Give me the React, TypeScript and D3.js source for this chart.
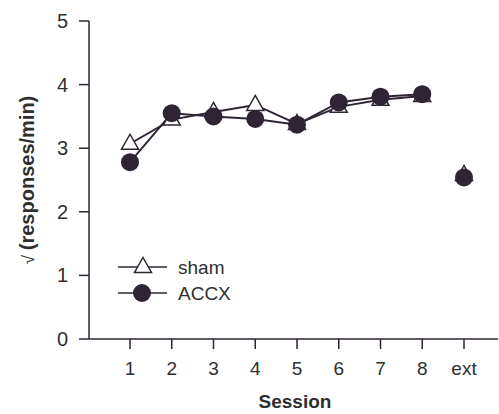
import React from "react";
import * as d3 from "d3";

const sessions = ["1", "2", "3", "4", "5", "6", "7", "8", "ext"];
const shamValues = [3.07, 3.45, 3.57, 3.68, 3.38, 3.65, 3.76, 3.82, 2.58];
const accxValues = [2.78, 3.55, 3.5, 3.46, 3.37, 3.72, 3.81, 3.85, 2.54];
const yTicks = [0, 1, 2, 3, 4, 5];
const connectedCount = 8;

const W = 499;
const H = 414;
const INK = "#2e2433";
const TEXT = "#2f2f2f";
const FONT = "'Liberation Sans', Arial, sans-serif";

export default function App() {
  const x = d3.scalePoint<string>().domain(sessions).range([130, 464]);
  const y = d3.scaleLinear().domain([0, 5]).range([339, 21]);
  const line = d3
    .line<number>()
    .x((_, i) => x(sessions[i]) as number)
    .y((d) => y(d));

  const triPath = (cx: number, cy: number) =>
    `M${cx},${cy - 9.5} L${cx + 8.5},${cy + 5.5} L${cx - 8.5},${cy + 5.5} Z`;

  return (
    <svg
      width={W}
      height={H}
      style={{ position: "absolute", left: 0, top: 0, background: "#fff" }}
      fontFamily={FONT}
    >
      {/* axes */}
      <line x1={89} x2={89} y1={y(5)} y2={y(0)} stroke={INK} strokeWidth={1.5} />
      <line x1={89} x2={498} y1={y(0)} y2={y(0)} stroke={INK} strokeWidth={1.5} />
      {yTicks.map((t) => (
        <g key={t}>
          <line x1={79} x2={89} y1={y(t)} y2={y(t)} stroke={INK} strokeWidth={1.5} />
          <text x={68} y={y(t)} dy="0.35em" textAnchor="end" fontSize={20} fill={TEXT}>
            {t}
          </text>
        </g>
      ))}
      {sessions.map((s) => (
        <g key={s}>
          <line x1={x(s)} x2={x(s)} y1={y(0)} y2={y(0) + 10} stroke={INK} strokeWidth={1.5} />
          <text x={x(s)} y={368} dy="0.35em" textAnchor="middle" fontSize={19} fill={TEXT}>
            {s}
          </text>
        </g>
      ))}
      <text x={295} y={408} textAnchor="middle" fontSize={19} fontWeight="bold" fill={TEXT}>
        Session
      </text>
      <text
        transform="translate(34,180) rotate(-90)"
        textAnchor="middle"
        fontSize={20}
        fontWeight="bold"
        fill={TEXT}
      >
        <tspan fontWeight="normal" fontSize={17}>√ </tspan>
        (responses/min)
      </text>

      {/* lines */}
      <path
        d={line(shamValues.slice(0, connectedCount)) as string}
        fill="none"
        stroke={INK}
        strokeWidth={2}
      />
      <path
        d={line(accxValues.slice(0, connectedCount)) as string}
        fill="none"
        stroke={INK}
        strokeWidth={2}
      />
      {/* markers */}
      {shamValues.map((v, i) => (
        <path
          key={"s" + i}
          d={triPath(x(sessions[i]) as number, y(v))}
          fill="#fff"
          stroke={INK}
          strokeWidth={1.5}
        />
      ))}
      {accxValues.map((v, i) => (
        <circle key={"a" + i} cx={x(sessions[i])} cy={y(v)} r={9} fill={INK} />
      ))}

      {/* legend */}
      <line x1={118} x2={167} y1={267} y2={267} stroke={INK} strokeWidth={1.5} />
      <path d={triPath(143, 267)} fill="#fff" stroke={INK} strokeWidth={1.5} />
      <text x={178} y={267} dy="0.35em" fontSize={19} fill={TEXT}>
        sham
      </text>
      <line x1={118} x2={167} y1={293} y2={293} stroke={INK} strokeWidth={1.5} />
      <circle cx={142} cy={293} r={9} fill={INK} />
      <text x={178} y={293} dy="0.35em" fontSize={19} fill={TEXT}>
        ACCX
      </text>
    </svg>
  );
}
